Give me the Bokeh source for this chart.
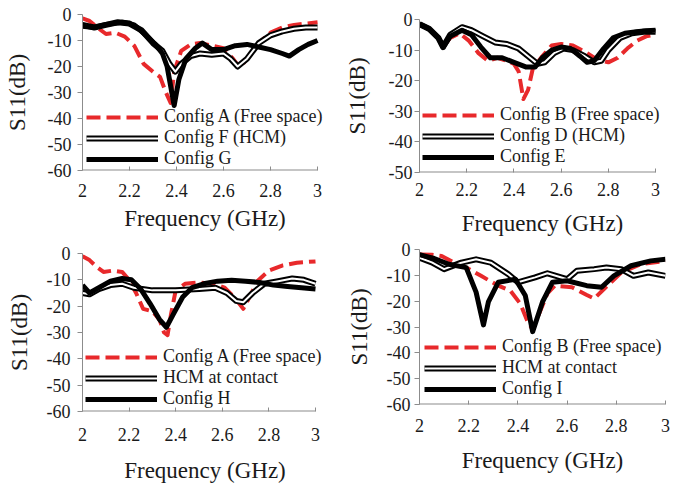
from bokeh.plotting import figure
from bokeh.layouts import column, row
from bokeh.models import Range1d, FixedTicker, CustomJSTickFormatter, Legend, LegendItem
from bokeh.embed import file_html
from bokeh.resources import INLINE

FONT = "Liberation Serif"
RED = "#e8292b"
AXIS_GRAY = "#8c8c8c"

freq_ticks = [2.0, 2.2, 2.4, 2.6, 2.8, 3.0]
x_label = "Frequency (GHz)"
y_label = "S11(dB)"

# ---------------- Top-left panel ----------------
tl_labels = ["Config A (Free space)", "Config F (HCM)", "Config G"]
tl_freq_a = [2.00, 2.03, 2.07, 2.10, 2.14, 2.18, 2.22, 2.26, 2.30, 2.33, 2.355, 2.375, 2.39, 2.42, 2.46, 2.50, 2.55, 2.60, 2.64, 2.67, 2.70, 2.75, 2.80, 2.85, 2.90, 2.95, 3.00]
tl_s11_a = [-1.5, -2.5, -5.5, -7.5, -7.0, -8.5, -12, -19, -22, -24, -30, -34, -22, -14, -11.5, -11, -12, -13, -17, -20.5, -17, -11, -7, -5, -4, -3.5, -3]
tl_freq_f = [2.00, 2.05, 2.10, 2.15, 2.20, 2.25, 2.30, 2.34, 2.37, 2.395, 2.42, 2.46, 2.50, 2.55, 2.60, 2.63, 2.66, 2.70, 2.75, 2.80, 2.85, 2.90, 2.95, 3.00]
tl_s11_f = [-4, -5, -4, -3, -3.5, -6, -11, -14, -19, -22, -19, -16, -15, -15.5, -15, -17, -20, -17, -11, -8, -6.5, -5.5, -5, -5]
tl_freq_g = [2.00, 2.05, 2.10, 2.17, 2.22, 2.27, 2.31, 2.34, 2.36, 2.38, 2.39, 2.41, 2.44, 2.48, 2.51, 2.55, 2.60, 2.65, 2.70, 2.75, 2.80, 2.85, 2.88, 2.92, 2.96, 3.00]
tl_s11_g = [-4.5, -5, -3.8, -3, -4, -8, -11.5, -15, -20, -30, -35, -25, -17, -13, -11, -13.5, -13.5, -12, -11.5, -12.5, -13.5, -15, -16, -13.5, -11.5, -10]

# ---------------- Top-right panel ----------------
tr_labels = ["Config B (Free space)", "Config D (HCM)", "Config E"]
tr_freq_b = [2.00, 2.04, 2.08, 2.10, 2.13, 2.17, 2.21, 2.25, 2.29, 2.33, 2.37, 2.40, 2.42, 2.44, 2.46, 2.48, 2.52, 2.56, 2.60, 2.65, 2.70, 2.75, 2.80, 2.84, 2.88, 2.92, 2.96, 3.00]
tr_s11_b = [-1.5, -3, -6, -9, -6, -4.5, -7, -11, -13.5, -12.5, -13.5, -14.5, -17, -26, -23, -16, -12, -8.5, -8, -8.5, -10.5, -13, -14, -12.5, -9.5, -7, -5.5, -5]
tr_freq_d = [2.00, 2.04, 2.08, 2.10, 2.13, 2.18, 2.22, 2.27, 2.32, 2.37, 2.42, 2.46, 2.50, 2.53, 2.57, 2.61, 2.65, 2.70, 2.74, 2.77, 2.80, 2.85, 2.90, 2.95, 3.00]
tr_s11_d = [-1.5, -3, -6, -9, -5, -2.5, -3.5, -5.5, -7.5, -8, -9.5, -12, -14.5, -14, -11, -9.5, -10, -12, -14, -13.5, -10, -6, -4.5, -4, -4]
tr_freq_e = [2.00, 2.04, 2.08, 2.10, 2.13, 2.18, 2.22, 2.26, 2.30, 2.35, 2.40, 2.45, 2.49, 2.52, 2.56, 2.60, 2.64, 2.68, 2.71, 2.74, 2.78, 2.82, 2.87, 2.92, 2.96, 3.00]
tr_s11_e = [-1.5, -3, -6, -9, -5.5, -3.5, -5, -9, -12.5, -12.5, -14, -15.5, -15.5, -12.5, -10, -9, -9.5, -12, -14, -13.5, -9.5, -6, -4.5, -4, -3.7, -3.5]

# ---------------- Bottom-left panel ----------------
bl_labels = ["Config A (Free space)", "HCM at contact", "Config H"]
bl_freq_a = [2.00, 2.03, 2.06, 2.09, 2.13, 2.17, 2.20, 2.23, 2.26, 2.30, 2.33, 2.35, 2.365, 2.38, 2.40, 2.44, 2.50, 2.56, 2.61, 2.65, 2.69, 2.72, 2.75, 2.80, 2.86, 2.92, 3.00]
bl_s11_a = [-1, -2.5, -5, -7, -6.5, -7, -10, -15, -21, -22, -25, -30, -31, -23, -14, -11.5, -11, -11.5, -13, -16.5, -21, -16, -10.5, -6.5, -4.5, -3.5, -3]
bl_freq_hcm = [2.00, 2.03, 2.07, 2.12, 2.17, 2.22, 2.30, 2.40, 2.50, 2.57, 2.62, 2.66, 2.69, 2.73, 2.78, 2.84, 2.90, 2.95, 3.00]
bl_s11_hcm = [-15, -15.5, -13.5, -12, -11.5, -13, -14, -14, -13.5, -13, -15, -18, -18.5, -15, -11.5, -10.5, -9.5, -10, -11.5]
bl_freq_h = [2.00, 2.03, 2.07, 2.12, 2.17, 2.21, 2.25, 2.29, 2.33, 2.36, 2.39, 2.43, 2.47, 2.52, 2.58, 2.64, 2.70, 2.76, 2.82, 2.88, 2.94, 3.00]
bl_s11_h = [-12, -15, -13, -10.5, -9.5, -10, -13.5, -19, -25, -28, -23, -16.5, -13, -11.5, -10.5, -10.2, -10.5, -11, -12, -12.5, -13, -13.5]

# ---------------- Bottom-right panel ----------------
br_labels = ["Config B (Free space)", "HCM at contact", "Config I"]
br_freq_b = [2.00, 2.05, 2.09, 2.14, 2.20, 2.25, 2.32, 2.37, 2.41, 2.44, 2.46, 2.49, 2.52, 2.55, 2.62, 2.68, 2.71, 2.75, 2.82, 2.90, 3.00]
br_s11_b = [-1.9, -2, -2.5, -5, -7.5, -10.2, -14, -16, -21, -28, -31, -24, -17, -14, -14.6, -17.6, -19, -15.3, -8.9, -5.7, -4.4]
br_freq_hcm = [2.00, 2.05, 2.10, 2.17, 2.23, 2.29, 2.36, 2.40, 2.47, 2.52, 2.60, 2.64, 2.71, 2.76, 2.82, 2.87, 2.93, 3.00]
br_s11_hcm = [-3.2, -5, -7.6, -5.1, -3.8, -5.1, -9.5, -12.7, -10.8, -9.2, -11.5, -8.2, -7.6, -7, -7.6, -10.2, -8.9, -10.2]
br_freq_i = [2.00, 2.06, 2.12, 2.19, 2.23, 2.26, 2.28, 2.32, 2.39, 2.43, 2.46, 2.50, 2.54, 2.60, 2.68, 2.74, 2.79, 2.86, 2.94, 3.00]
br_s11_i = [-2, -3.5, -5.7, -7, -16.5, -29.2, -20.3, -12.7, -11.5, -17.8, -31.8, -20.3, -12.7, -12.1, -14, -14.6, -10.2, -6.3, -4.4, -3.8]


def panel(w, h, borders, ext_px, ymin, series, leg_xy, leg_spacing,
          xstand, xals, ystand, yals):
    left, right, top, bottom = borders
    frame_w = w - left - right
    # frame is widened by ext_px beyond x=3 so that legend text is not clipped
    span = freq_ticks[-1] - freq_ticks[0]
    xmax = freq_ticks[-1] + span * ext_px / (frame_w - ext_px)
    p = figure(width=w, height=h, output_backend="svg", toolbar_location=None,
               title=None,
               x_range=Range1d(freq_ticks[0], xmax), y_range=Range1d(ymin, 0),
               min_border_left=left, min_border_right=right,
               min_border_top=top, min_border_bottom=bottom)
    p.outline_line_color = None
    p.grid.visible = False
    p.background_fill_color = "white"
    p.border_fill_color = "white"

    xa = p.xaxis[0]
    xa.ticker = FixedTicker(ticks=freq_ticks)
    xa.formatter = CustomJSTickFormatter(code="return String(Math.round(tick*10)/10)")
    xa.axis_label = x_label
    xa.major_tick_in = 4
    xa.major_tick_out = 0
    xa.minor_tick_line_color = None
    xa.major_label_standoff = xstand
    xa.axis_label_standoff = xals
    xa.axis_line_color = None

    ya = p.yaxis[0]
    ya.ticker = FixedTicker(ticks=list(range(ymin, 1, 10)))
    ya.formatter = CustomJSTickFormatter(code="return String(Math.round(tick))")
    ya.axis_label = y_label
    ya.major_tick_in = 0
    ya.major_tick_out = 5
    ya.minor_tick_line_color = None
    ya.major_label_standoff = ystand
    ya.axis_label_standoff = yals
    ya.axis_line_color = AXIS_GRAY

    for ax in (xa, ya):
        ax.major_tick_line_color = AXIS_GRAY
        ax.major_label_text_font = FONT
        ax.major_label_text_font_size = "18px"
        ax.major_label_text_color = "#1a1a1a"
        ax.axis_label_text_font = FONT
        ax.axis_label_text_font_size = "23px"
        ax.axis_label_text_font_style = "normal"
        ax.axis_label_text_color = "#1a1a1a"

    # x-axis baseline from 2 to 3 only
    p.segment(x0=[freq_ticks[0]], y0=[ymin], x1=[freq_ticks[-1]], y1=[ymin],
              line_color=AXIS_GRAY, line_width=2)

    items = []
    for label, fx, sy, style in series:
        if style == "red":
            r = p.line(fx, sy, line_color=RED, line_width=4, line_dash="14 6",
                       line_join="round")
            items.append(LegendItem(label=label, renderers=[r]))
        elif style == "double":
            r1 = p.line(fx, sy, line_color="black", line_width=6, line_join="round")
            r2 = p.line(fx, sy, line_color="white", line_width=2, line_join="round")
            items.append(LegendItem(label=label, renderers=[r1, r2]))
        else:
            r = p.line(fx, sy, line_color="black", line_width=5, line_join="round")
            items.append(LegendItem(label=label, renderers=[r]))

    leg = Legend(items=items, location=leg_xy)
    leg.border_line_color = None
    leg.background_fill_alpha = 0
    leg.margin = 0
    leg.padding = 0
    leg.spacing = leg_spacing
    leg.glyph_width = 72
    leg.glyph_height = 18
    leg.label_height = 18
    leg.label_standoff = 6
    leg.label_text_font = FONT
    leg.label_text_font_size = "18px"
    leg.label_text_color = "#1a1a1a"
    leg.label_text_baseline = "middle"
    p.add_layout(leg)
    return p


BL_ROW = 240   # row split of the left column
BR_ROW = 238   # row split of the right column

p1 = panel(340, BL_ROW, (81, 13, 14, BL_ROW - 170), 10, -60,
           [(tl_labels[0], tl_freq_a, tl_s11_a, "red"),
            (tl_labels[1], tl_freq_f, tl_s11_f, "double"),
            (tl_labels[2], tl_freq_g, tl_s11_g, "thick")],
           (4, 1), -1, 13, 6, 6, 15)

p3 = panel(340, 485 - BL_ROW, (82, 13, 253 - BL_ROW, 72), 12, -60,
           [(bl_labels[0], bl_freq_a, bl_s11_a, "red"),
            (bl_labels[1], bl_freq_hcm, bl_s11_hcm, "double"),
            (bl_labels[2], bl_freq_h, bl_s11_h, "thick")],
           (3, 2), 0, 16, 14, 7, 12)

p2 = panel(341, BR_ROW, (79, 14, 19, BR_ROW - 173), 10, -50,
           [(tr_labels[0], tr_freq_b, tr_s11_b, "red"),
            (tr_labels[1], tr_freq_d, tr_s11_d, "double"),
            (tr_labels[2], tr_freq_e, tr_s11_e, "thick")],
           (3, 5), -1, 10, 12, 2, 16)

p4 = panel(341, 485 - BR_ROW, (77, 16, 249 - BR_ROW, 81), 0, -60,
           [(br_labels[0], br_freq_b, br_s11_b, "red"),
            (br_labels[1], br_freq_hcm, br_s11_hcm, "double"),
            (br_labels[2], br_freq_i, br_s11_i, "thick")],
           (5, 5), 0, 14, 13, 4, 12)

layout = row(column(p1, p3), column(p2, p4))

open("out.html", "w").write(file_html(layout, INLINE))
